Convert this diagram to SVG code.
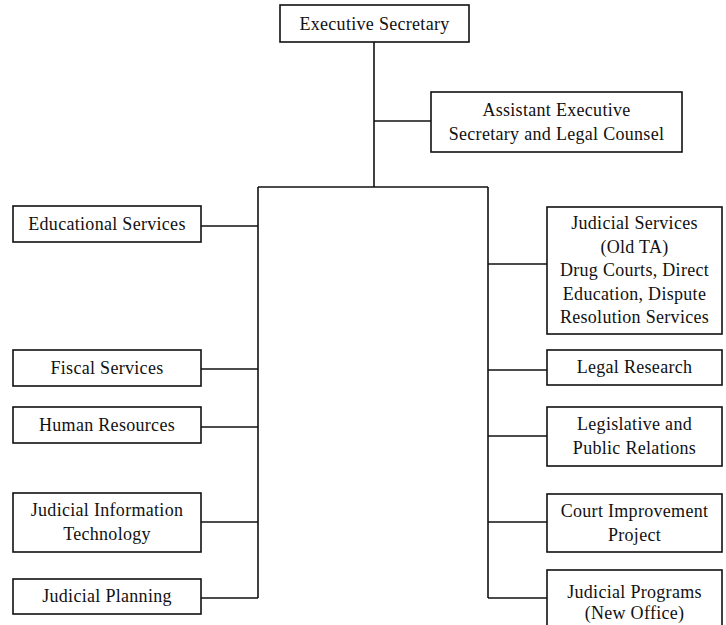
<svg xmlns="http://www.w3.org/2000/svg" width="726" height="625" viewBox="0 0 726 625">
<style>
rect{fill:#fff;stroke:#111;stroke-width:1.6}
.c line{stroke:#111;stroke-width:1.6}
text{font-family:"Liberation Serif","Times New Roman",serif;font-size:18px;letter-spacing:0.3px;fill:#111;text-anchor:middle}
</style>
<rect x="0" y="0" width="726" height="625" style="stroke:none"/>
<g class="c">
<line x1="374" y1="42" x2="374" y2="187"/>
<line x1="374" y1="121" x2="431" y2="121"/>
<line x1="258" y1="187" x2="488" y2="187"/>
<line x1="258" y1="187" x2="258" y2="598"/>
<line x1="488" y1="187" x2="488" y2="598"/>
<line x1="201" y1="226" x2="258" y2="226"/>
<line x1="201" y1="369" x2="258" y2="369"/>
<line x1="201" y1="427" x2="258" y2="427"/>
<line x1="201" y1="522" x2="258" y2="522"/>
<line x1="201" y1="598" x2="258" y2="598"/>
<line x1="488" y1="264" x2="547" y2="264"/>
<line x1="488" y1="370" x2="547" y2="370"/>
<line x1="488" y1="436" x2="547" y2="436"/>
<line x1="488" y1="522" x2="547" y2="522"/>
<line x1="488" y1="598" x2="547" y2="598"/>
</g>
<g id="exec"><rect x="280" y="5" width="189" height="37"/><text x="374.5" y="30">Executive Secretary</text></g>
<g id="asst"><rect x="431" y="92" width="251" height="60"/><text x="556.5" y="116">Assistant Executive</text><text x="556.5" y="140">Secretary and Legal Counsel</text></g>
<g id="edu"><rect x="13" y="206" width="188" height="36"/><text x="107" y="230">Educational Services</text></g>
<g id="fiscal"><rect x="13" y="350" width="188" height="36"/><text x="107" y="374">Fiscal Services</text></g>
<g id="hr"><rect x="13" y="407" width="188" height="36"/><text x="107" y="431">Human Resources</text></g>
<g id="jit"><rect x="13" y="493" width="188" height="59"/><text x="107" y="516">Judicial Information</text><text x="107" y="540">Technology</text></g>
<g id="jp"><rect x="13" y="579" width="188" height="35"/><text x="107" y="602">Judicial Planning</text></g>
<g id="js"><rect x="547" y="207" width="175" height="127"/><text x="634.5" y="229">Judicial Services</text><text x="634.5" y="253">(Old TA)</text><text x="634.5" y="276">Drug Courts, Direct</text><text x="634.5" y="300">Education, Dispute</text><text x="634.5" y="323">Resolution Services</text></g>
<g id="lr"><rect x="547" y="350" width="175" height="35"/><text x="634.5" y="373">Legal Research</text></g>
<g id="lpr"><rect x="547" y="407" width="175" height="59"/><text x="634.5" y="430">Legislative and</text><text x="634.5" y="454">Public Relations</text></g>
<g id="cip"><rect x="547" y="494" width="175" height="58"/><text x="634.5" y="517">Court Improvement</text><text x="634.5" y="541">Project</text></g>
<g id="jprog"><rect x="547" y="570" width="175" height="65"/><text x="634.5" y="598">Judicial Programs</text><text x="634.5" y="619">(New Office)</text></g>
</svg>
